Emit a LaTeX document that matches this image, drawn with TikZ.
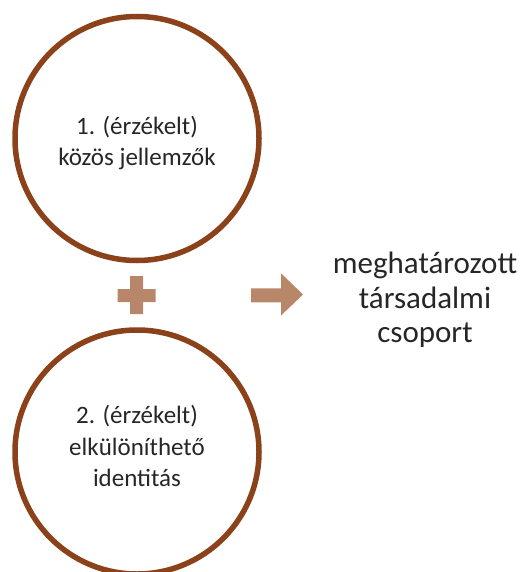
\documentclass[tikz,border=0pt]{standalone}
\usepackage{fontspec}
\setmainfont{Carlito}
\definecolor{ringbrown}{RGB}{139,65,26}
\definecolor{signtan}{RGB}{184,135,106}
\definecolor{textgray}{RGB}{38,38,38}
\begin{document}
\begin{tikzpicture}[x=1pt,y=-1pt,
  ring/.style={circle, draw=ringbrown, line width=5.5pt, minimum size=244pt,
    inner sep=0pt},
  ringtext/.style={align=center, text=textgray,
    font=\fontsize{25}{31.5}\selectfont},
  result/.style={align=center, text=textgray, font=\fontsize{31}{34.5}\selectfont},
  sign/.style={fill=signtan}]
\useasboundingbox (0,0) rectangle (525,572);

% the two circles with their labels
\node[ring] (first) at (137,138.5) {};
\node[ringtext] (firsttext) at (137,143) {1. (érzékelt)\\közös jellemzők};
\node[ring] (second) at (137,452) {};
\node[ringtext] (secondtext) at (137,446) {2. (érzékelt)\\elkülöníthető\\identitás};

% plus sign between the circles
\fill[sign] (130,276) -- (143,276) -- (143,289) -- (155.5,289) -- (155.5,302)
  -- (143,302) -- (143,314) -- (130,314) -- (130,302) -- (117.5,302)
  -- (117.5,289) -- (130,289) -- cycle;

% arrow pointing to the result
\fill[sign] (251,288.3) -- (281,288.3) -- (281,273.3) -- (303,294.5)
  -- (281,315.5) -- (281,302.3) -- (251,302.3) -- cycle;

% result text
\node[result] (group) at (425,300) {meghatározott\\társadalmi\\csoport};
\end{tikzpicture}
\end{document}
